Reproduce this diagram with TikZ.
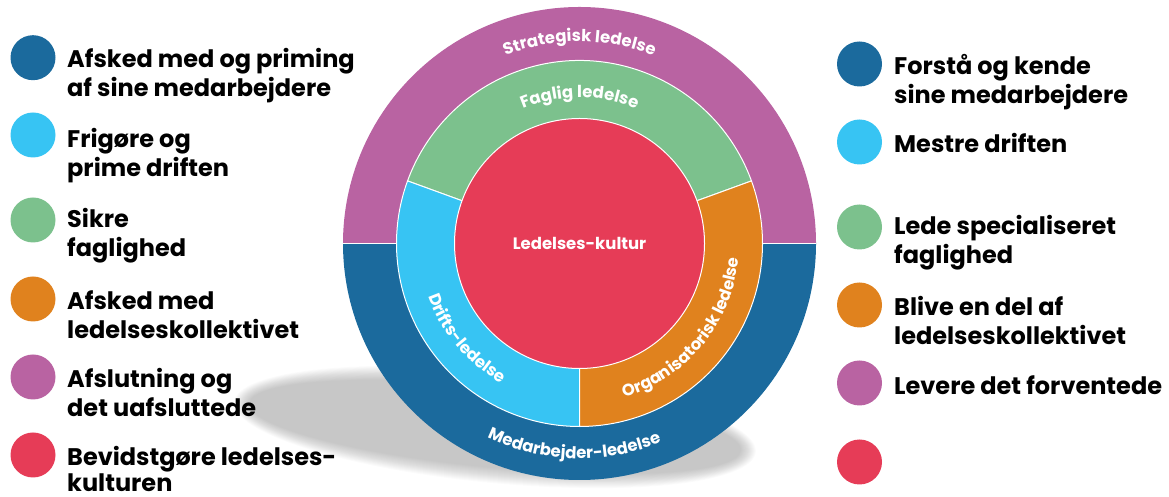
\documentclass[tikz,border=0pt]{standalone}
\usepackage{fontspec}
\setmainfont{Poppins}
\usetikzlibrary{decorations.text,calc}

\definecolor{cDark}{HTML}{1B6A9D}
\definecolor{cLight}{HTML}{37C4F3}
\definecolor{cGreen}{HTML}{7CC18D}
\definecolor{cOrange}{HTML}{E0821E}
\definecolor{cPurple}{HTML}{B963A2}
\definecolor{cRed}{HTML}{E63C57}

\newcommand\legfont{\fontsize{24}{29}\selectfont\bfseries}
\newcommand\ringfont{\fontsize{16.5}{16.5}\selectfont\bfseries}

\tikzset{
  dot/.style={circle, inner sep=0pt, minimum size=45pt},
  legtext/.style={anchor=base west, inner sep=0pt, font=\legfont, text=black},
  seg/.style={draw=white, line width=1pt},
  ringlabel/.style={decorate, decoration={text along path, text align=center, text color=white}},
}

\begin{document}
\begin{tikzpicture}[x=1pt,y=1pt]
\useasboundingbox (0,0) rectangle (1169,497);
\coordinate (C) at (579.5,253.5);

% soft drop shadow under the wheel
\begin{scope}[shift={(495,70)}, rotate=-5.5]
  \foreach \i [evaluate=\i as \ra using 262-\i, evaluate=\i as \rb using 56-\i] in {0,...,15}
    \fill[black, fill opacity=0.017] (0,0) ellipse [x radius=\ra, y radius=\rb];
\end{scope}

% outer ring: strategic (top) and employee (bottom)
\fill[cPurple] (C) ++(0:236.5) arc[start angle=0, end angle=180, radius=236.5] -- cycle;
\fill[cDark] (C) ++(180:236.5) arc[start angle=180, end angle=360, radius=236.5] -- cycle;
\draw[white, line width=0.8pt] ($(C)+(-236.5,0)$) -- ($(C)+(236.5,0)$);

% middle ring sectors
\filldraw[seg, fill=cGreen] (C) -- ++(20:183) arc[start angle=20, end angle=160, radius=183] -- cycle;
\filldraw[seg, fill=cLight] (C) -- ++(160:183) arc[start angle=160, end angle=270, radius=183] -- cycle;
\filldraw[seg, fill=cOrange] (C) -- ++(270:183) arc[start angle=270, end angle=380, radius=183] -- cycle;

% core
\filldraw[seg, fill=cRed] (C) circle[radius=125];
\node[font=\fontsize{16.5}{16.5}\selectfont\bfseries, text=white, inner sep=0pt] (core) at (C) {Ledelses-kultur};

% curved ring labels
\path[ringlabel, decoration={text={|\ringfont|Strategisk ledelse}}]
  ($(C)+(130:202)$) arc[start angle=130, end angle=50, radius=202];
\path[ringlabel, decoration={text={|\ringfont|Faglig ledelse}}]
  ($(C)+(130:146)$) arc[start angle=130, end angle=50, radius=146];
\path[ringlabel, decoration={text={|\ringfont|Drifts-ledelse}}]
  ($(C)+(175:160)$) arc[start angle=175, end angle=265, radius=160];
\path[ringlabel, decoration={text={|\ringfont|Organisatorisk ledelse}}]
  ($(C)+(272:160)$) arc[start angle=272, end angle=369, radius=160];
\path[ringlabel, decoration={text={|\ringfont|Medarbejder-ledelse}}]
  ($(C)+(225:215)$) arc[start angle=225, end angle=312, radius=215];

% left legend
\node[dot, fill=cDark]   (dl1) at (33,439.3) {};
\node[dot, fill=cLight]  (dl2) at (33,362) {};
\node[dot, fill=cGreen]  (dl3) at (33,277) {};
\node[dot, fill=cOrange] (dl4) at (33,198) {};
\node[dot, fill=cPurple] (dl5) at (33,120) {};
\node[dot, fill=cRed]    (dl6) at (33,42) {};
\node[legtext] (tl1) at (67,429) {\parbox[t]{320pt}{Afsked med og priming\\af sine medarbejdere}};
\node[legtext] (tl2) at (67,349) {\parbox[t]{320pt}{Frigøre og\\prime driften}};
\node[legtext] (tl3) at (67,269) {\parbox[t]{320pt}{Sikre\\faglighed}};
\node[legtext] (tl4) at (67,187) {\parbox[t]{320pt}{Afsked med\\ledelseskollektivet}};
\node[legtext] (tl5) at (67,109) {\parbox[t]{320pt}{Afslutning og\\det uafsluttede}};
\node[legtext] (tl6) at (67,31)  {\parbox[t]{320pt}{Bevidstgøre ledelses-\\[-3pt]kulturen}};

% right legend
\node[dot, fill=cDark]   (dr1) at (859.5,433) {};
\node[dot, fill=cLight]  (dr2) at (859.5,355) {};
\node[dot, fill=cGreen]  (dr3) at (859.5,270) {};
\node[dot, fill=cOrange] (dr4) at (859.5,192) {};
\node[dot, fill=cPurple] (dr5) at (859.5,114) {};
\node[dot, fill=cRed]    (dr6) at (859.5,35) {};
\node[legtext] (tr1) at (894,422) {\parbox[t]{280pt}{Forstå og kende\\sine medarbejdere}};
\node[legtext] (tr2) at (894,344) {\parbox[t]{280pt}{Mestre driften}};
\node[legtext] (tr3) at (894,262) {\parbox[t]{280pt}{Lede specialiseret\\faglighed}};
\node[legtext] (tr4) at (894,181) {\parbox[t]{280pt}{Blive en del af\\ledelseskollektivet}};
\node[legtext] (tr5) at (894,102) {\parbox[t]{280pt}{Levere det forventede}};
\end{tikzpicture}
\end{document}
